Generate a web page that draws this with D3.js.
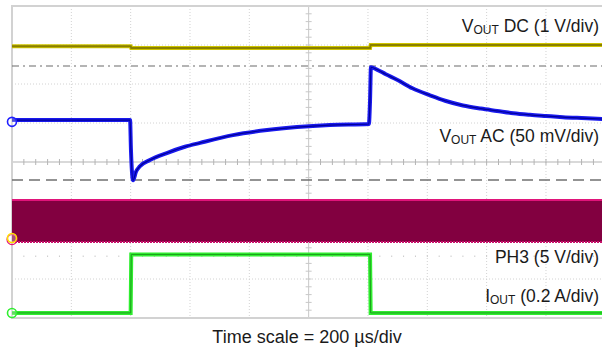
<!DOCTYPE html>
<html><head><meta charset="utf-8">
<script src="https://cdn.jsdelivr.net/npm/d3@7/dist/d3.min.js"></script>
<style>html,body{margin:0;padding:0;background:#fff;}svg{display:block;}</style>
</head><body>
<svg id="chart" width="602" height="350"></svg>
<script>
// ---- data (time in µs, 200 µs/div) ----
const timeDivs = [0,200,400,600,800,1000,1200,1400,1600,1800,2000];
const vertDivs = [-4,-3,-2,-1,0,1,2,3,4];

// VOUT DC (1 V/div)
const vdcTime  = [0, 400, 402, 1207, 1209, 2000];
const vdcValue = [3.00, 3.00, 2.95, 2.95, 3.03, 3.03];

// VOUT AC (50 mV/div)
const vacTime  = [0, 398, 401, 408, 418, 431, 465, 522, 583, 634, 745, 860, 961, 1072, 1203, 1207, 1210, 1230, 1260, 1298, 1350, 1409, 1460, 1520, 1580, 1635, 1690, 1746, 1800, 1857, 1920, 1989, 2000];
const vacValue = [2.3, 2.3, -36, -75, -64, -57, -49, -40, -32, -27, -17, -10.5, -6.7, -4.1, -2.8, 28, 70, 67, 61, 54, 43, 34, 27, 21, 17, 14, 11, 9, 7.5, 6, 4.8, 3.6, 3.4];

// PH3 (5 V/div) switching envelope
const phTime = [0, 2000];
const phHigh = [4.87, 4.87];
const phLow  = [-0.5, -0.5];

// IOUT (0.2 A/div)
const ioTime  = [0, 400, 402, 1207, 1209, 2000];
const ioValue = [0, 0, 0.30, 0.30, 0, 0];

// channel settings: units per division and position (div) of the zero marker
const chVdc = {scale: 1,    offset: -0.03};
const chVac = {scale: 50,   offset: 1.03};
const chPh  = {scale: 5,    offset: -1.95};
const chIo  = {scale: 0.2,  offset: -3.87};

const labels = {
  vdc: ["V", "OUT", " DC (1 V/div)"],
  vac: ["V", "OUT", " AC (50 mV/div)"],
  ph:  ["PH3 (5 V/div)"],
  io:  ["I", "OUT", " (0.2 A/div)"],
  time: "Time scale = 200 µs/div"
};

// ---- scales ----
const svg = d3.select("#chart");
const x = d3.scaleLinear().domain([0, 2000]).range([12, 605.3]);
const y = d3.scaleLinear().domain([-4, 4]).range([318, 6]);
const yc = ch => v => y(ch.offset + v / ch.scale);

// ---- graticule ----
const g = svg.append("g");
timeDivs.slice(1, -1).forEach(t => {
  const center = t === 1000;
  g.append("line").attr("x1", x(t)).attr("x2", x(t)).attr("y1", y(4)).attr("y2", y(-4))
    .attr("stroke", center ? "#c8c8c8" : "#d2d2d2").attr("stroke-width", 1)
    .attr("stroke-dasharray", center ? null : "1,2");
});
vertDivs.slice(1, -1).forEach(d => {
  const center = d === 0;
  g.append("line").attr("x1", x(0)).attr("x2", 602).attr("y1", y(d)).attr("y2", y(d))
    .attr("stroke", center ? "#b4b4b4" : "#d2d2d2").attr("stroke-width", center ? 1.2 : 1)
    .attr("stroke-dasharray", center ? null : "1,2");
});
// minor ticks on centre lines
const minorT = d3.range(0, 2001, 40);
g.selectAll(".mt").data(minorT).join("line")
  .attr("x1", d => x(d)).attr("x2", d => x(d))
  .attr("y1", y(0) - 3).attr("y2", y(0) + 3)
  .attr("stroke", "#b4b4b4").attr("stroke-width", 1);
const minorV = d3.range(-4, 4.01, 0.2);
g.selectAll(".mv").data(minorV).join("line")
  .attr("x1", x(1000) - 3).attr("x2", x(1000) + 3)
  .attr("y1", d => y(d)).attr("y2", d => y(d))
  .attr("stroke", "#c8c8c8").attr("stroke-width", 1);
// sparse dot row
g.selectAll(".dr").data(d3.range(40, 2000, 40)).join("rect")
  .attr("x", d => x(d) - 0.5).attr("y", y(-2.4)).attr("width", 1).attr("height", 1.2)
  .attr("fill", "#bdbdbd");
// border
g.append("path")
  .attr("d", `M602,${y(4)}H${x(0)}V${y(-4)}H602`)
  .attr("fill", "none").attr("stroke", "#d2d2d2").attr("stroke-width", 2);

// reference lines
g.append("line").attr("x1", x(0)).attr("x2", 602).attr("y1", 66).attr("y2", 66)
  .attr("stroke", "#6a6a6a").attr("stroke-width", 1.2).attr("stroke-dasharray", "7,4,2,4");
g.append("line").attr("x1", x(0)).attr("x2", 602).attr("y1", 180).attr("y2", 180)
  .attr("stroke", "#707070").attr("stroke-width", 1.5).attr("stroke-dasharray", "11,6");

// ---- traces ----
const lineOf = (ts, vs, ch, curve) => d3.line().curve(curve || d3.curveLinear)
  .x((d, i) => x(ts[i])).y((d, i) => yc(ch)(vs[i]))(vs);

// PH3 band
const phArea = d3.area().x((d, i) => x(phTime[i]))
  .y0((d, i) => yc(chPh)(phLow[i])).y1((d, i) => yc(chPh)(phHigh[i]));
svg.append("path").attr("d", phArea(phTime)).attr("fill", "#820040");
svg.append("path").attr("d", lineOf(phTime, phHigh, chPh)).attr("fill", "none")
  .attr("stroke", "#e0147a").attr("stroke-width", 2);
svg.append("path").attr("d", lineOf(phTime, phLow, chPh)).attr("fill", "none")
  .attr("stroke", "#c8106a").attr("stroke-width", 2).attr("stroke-dasharray", "2,1");

// VOUT DC
svg.append("path").attr("d", lineOf(vdcTime, vdcValue, chVdc)).attr("fill", "none")
  .attr("stroke", "#cfc500").attr("stroke-width", 4);
svg.append("path").attr("d", lineOf(vdcTime, vdcValue, chVdc)).attr("fill", "none")
  .attr("stroke", "#8a8000").attr("stroke-width", 2);

// VOUT AC
const vacPath = lineOf(vacTime, vacValue, chVac, d3.curveMonotoneX);
svg.append("path").attr("d", vacPath).attr("fill", "none")
  .attr("stroke", "#1a1aee").attr("stroke-width", 4).attr("stroke-linejoin", "round");
svg.append("path").attr("d", vacPath).attr("fill", "none")
  .attr("stroke", "#000099").attr("stroke-width", 1.2).attr("stroke-linejoin", "round");

// IOUT
svg.append("path").attr("d", lineOf(ioTime, ioValue, chIo)).attr("fill", "none")
  .attr("stroke", "#30ee30").attr("stroke-width", 4);
svg.append("path").attr("d", lineOf(ioTime, ioValue, chIo)).attr("fill", "none")
  .attr("stroke", "#1c9c1c").attr("stroke-width", 1);

// zero markers
const markers = [
  {ch: chVac, color: "#2020ff"},
  {ch: chPh, color: "#ffe000", outer: "#e0147a"},
  {ch: chIo, color: "#30ee30"}
];
markers.forEach(m => {
  if (m.outer) svg.append("circle").attr("cx", x(0)).attr("cy", yc(m.ch)(0) + 1.5).attr("r", 5)
    .attr("fill", "none").attr("stroke", m.outer).attr("stroke-width", 1.2);
  svg.append("circle").attr("cx", x(0)).attr("cy", yc(m.ch)(0)).attr("r", 4.5)
    .attr("fill", "#fff").attr("fill-opacity", 0.3).attr("stroke", m.color).attr("stroke-width", 1.6);
});

// ---- labels ----
function label(parts, yy) {
  const t = svg.append("text").attr("x", 599).attr("y", yy).attr("text-anchor", "end")
    .attr("font-family", "Liberation Sans, Arial, sans-serif").attr("font-size", 17.5).attr("fill", "#1a1a1a");
  parts.forEach((p, i) => {
    const ts = t.append("tspan").text(p);
    if (parts.length === 3 && i === 1) ts.attr("font-size", 12).attr("dy", 2);
    if (parts.length === 3 && i === 2) ts.attr("dy", -2);
  });
}
label(labels.vdc, 32);
label(labels.vac, 142);
label(labels.ph, 263);
label(labels.io, 302);
svg.append("text").attr("x", 307).attr("y", 343).attr("text-anchor", "middle")
  .attr("font-family", "Liberation Sans, Arial, sans-serif").attr("font-size", 18).attr("fill", "#1a1a1a")
  .text(labels.time);
</script>
</body></html>
